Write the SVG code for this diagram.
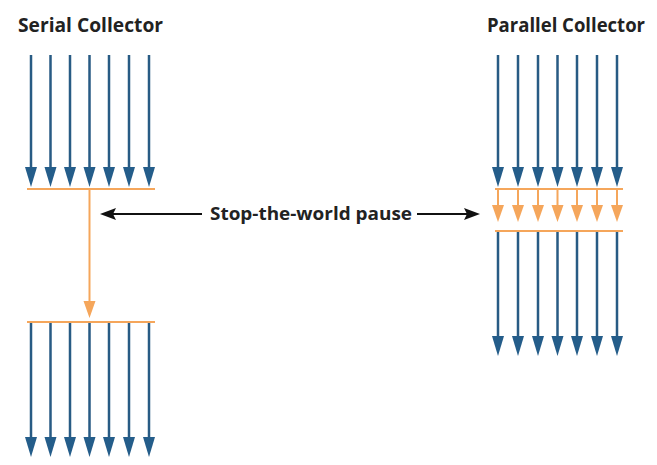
<svg xmlns="http://www.w3.org/2000/svg" width="657" height="465" viewBox="0 0 657 465">
<defs>
<style>
.t{font-family:"Open Sans","Liberation Sans",sans-serif;font-weight:bold;fill:#222}
.b{stroke:#285b84;stroke-width:2.5;fill:none}
.o{stroke:#f5a65b;stroke-width:2;fill:none}
.k{stroke:#111;stroke-width:2;fill:none}
</style>
<path id="bh" d="M-6,-20 L6,-20 L0,0 Z" fill="#245d8a"/>
<path id="oh" d="M-6,-17 L6,-17 L0,0 Z" fill="#f5a65b"/>
</defs>
<rect width="657" height="465" fill="#fff"/>
<g id="serial">
<text class="t" x="18" y="32" font-size="20" textLength="145" lengthAdjust="spacingAndGlyphs">Serial Collector</text>
<g id="serial-top">
<path class="b" d="M31,55V170M50.5,55V170M70,55V170M89.5,55V170M109,55V170M129,55V170M149,55V170"/>
<use href="#bh" x="31" y="187"/><use href="#bh" x="50.5" y="187"/><use href="#bh" x="70" y="187"/><use href="#bh" x="89.5" y="187"/><use href="#bh" x="109" y="187"/><use href="#bh" x="129" y="187"/><use href="#bh" x="149" y="187"/>
<path class="o" d="M27,189H155"/>
</g>
<g id="serial-gc">
<path class="o" d="M89.5,189V302"/>
<use href="#oh" x="89.5" y="318"/>
</g>
<g id="serial-bottom">
<path class="o" d="M27,322H155"/>
<path class="b" d="M31,323V440M50.5,323V440M70,323V440M89.5,323V440M109,323V440M129,323V440M149,323V440"/>
<use href="#bh" x="31" y="457"/><use href="#bh" x="50.5" y="457"/><use href="#bh" x="70" y="457"/><use href="#bh" x="89.5" y="457"/><use href="#bh" x="109" y="457"/><use href="#bh" x="129" y="457"/><use href="#bh" x="149" y="457"/>
</g>
</g>
<g id="parallel">
<text class="t" x="487" y="32" font-size="20" textLength="158" lengthAdjust="spacingAndGlyphs">Parallel Collector</text>
<g id="parallel-top">
<path class="b" d="M498,55V170M518,55V170M538,55V170M557.5,55V170M577,55V170M597,55V170M617,55V170"/>
<use href="#bh" x="498" y="187"/><use href="#bh" x="518" y="187"/><use href="#bh" x="538" y="187"/><use href="#bh" x="557.5" y="187"/><use href="#bh" x="577" y="187"/><use href="#bh" x="597" y="187"/><use href="#bh" x="617" y="187"/>
</g>
<g id="parallel-gc">
<path class="o" d="M495,189H623M495,231H623"/>
<path class="o" d="M498,189V206M518,189V206M538,189V206M557.5,189V206M577,189V206M597,189V206M617,189V206"/>
<use href="#oh" x="498" y="222"/><use href="#oh" x="518" y="222"/><use href="#oh" x="538" y="222"/><use href="#oh" x="557.5" y="222"/><use href="#oh" x="577" y="222"/><use href="#oh" x="597" y="222"/><use href="#oh" x="617" y="222"/>
</g>
<g id="parallel-bottom">
<path class="b" d="M498,232V340M518,232V340M538,232V340M557.5,232V340M577,232V340M597,232V340M617,232V340"/>
<use href="#bh" x="498" y="356"/><use href="#bh" x="518" y="356"/><use href="#bh" x="538" y="356"/><use href="#bh" x="557.5" y="356"/><use href="#bh" x="577" y="356"/><use href="#bh" x="597" y="356"/><use href="#bh" x="617" y="356"/>
</g>
</g>
<g id="label">
<text class="t" x="210" y="220" font-size="17" textLength="202" lengthAdjust="spacingAndGlyphs">Stop-the-world pause</text>
</g>
<g id="connectors">
<path class="k" d="M202,214H112"/>
<path d="M100,214L116,208L113,214L116,220Z" fill="#111"/>
<path class="k" d="M417,214H468"/>
<path d="M480,214L464,208L467,214L464,220Z" fill="#111"/>
</g>
</svg>
